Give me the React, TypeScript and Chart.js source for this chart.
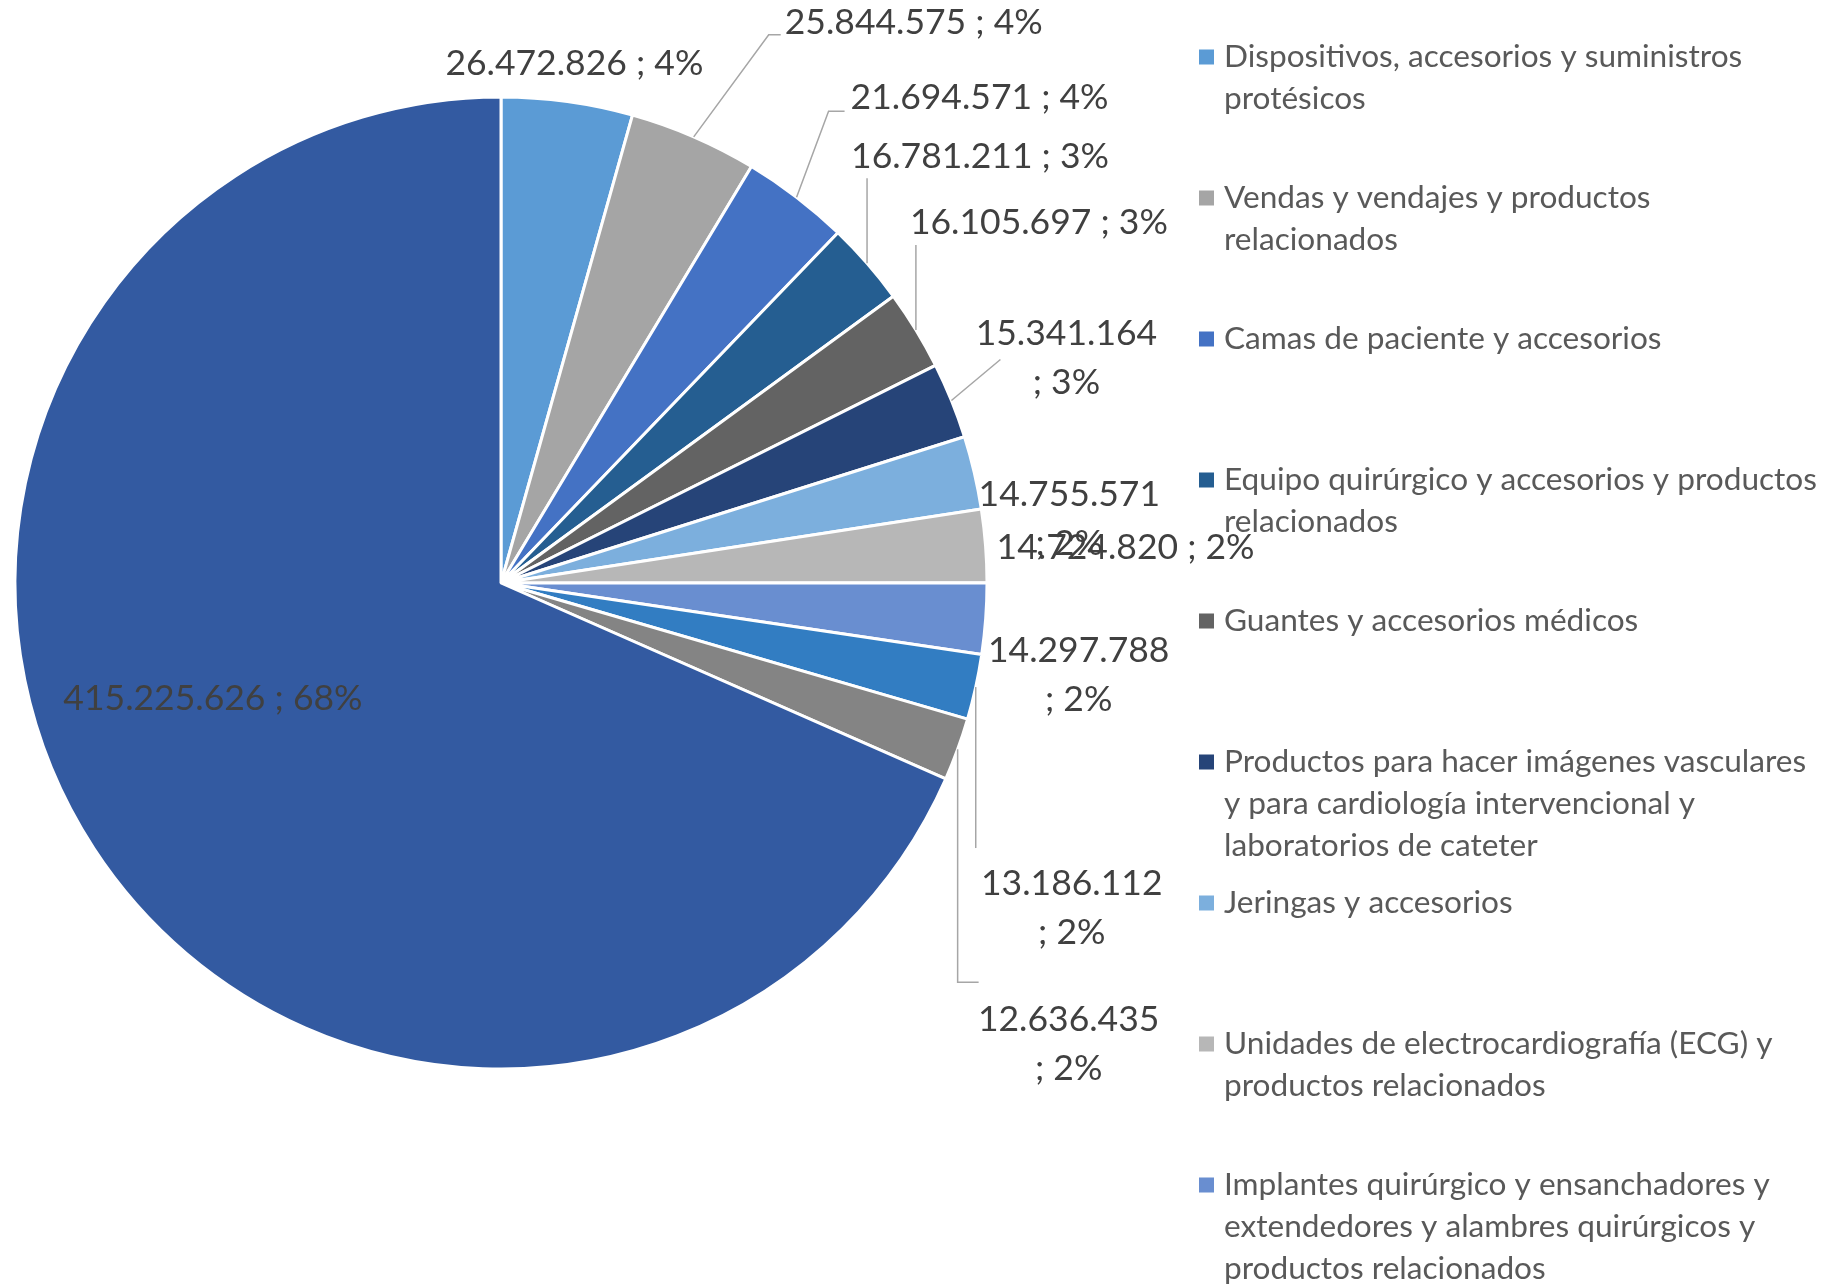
import React, { useEffect, useRef } from "react";
import { Chart, registerables } from "chart.js";

Chart.register(...registerables);

// ---- data ----
const CATEGORIES: string[][] = [
  ["Dispositivos, accesorios y suministros", "protésicos"],
  ["Vendas y vendajes y productos", "relacionados"],
  ["Camas de paciente y accesorios"],
  ["Equipo quirúrgico y accesorios y productos", "relacionados"],
  ["Guantes y accesorios médicos"],
  ["Productos para hacer imágenes vasculares", "y para cardiología intervencional y", "laboratorios de cateter"],
  ["Jeringas y accesorios"],
  ["Unidades de electrocardiografía (ECG) y", "productos relacionados"],
  ["Implantes quirúrgico y ensanchadores y", "extendedores y alambres quirúrgicos y", "productos relacionados"],
  ["Catéteres y cánulas y accesorios"],
  ["Suministros de anestesia"],
  ["Otros"],
];

const VALUES: number[] = [
  26472826, 25844575, 21694571, 16781211, 16105697, 15341164,
  14755571, 14724820, 14297788, 13186112, 12636435, 415225626,
];

const COLORS: string[] = [
  "#5B9BD5", "#A5A5A5", "#4472C4", "#255E91", "#636363", "#264478",
  "#7CAFDD", "#B7B7B7", "#698ED0", "#327DC2", "#848484", "#335AA1",
];

// label placement relative to the outer mid-point of each slice
// dx, dy: label centre offset; wrap: value and percent on two lines; leader: points relative to label centre
const LABEL_LAYOUT: { dx: number; dy: number; wrap: boolean; leader: number[][] | null }[] = [
  { dx: 7, dy: -38, wrap: false, leader: null },
  { dx: 220, dy: -114, wrap: false, leader: [[-145, 12], [-133, 12]] },
  { dx: 183, dy: -100, wrap: false, leader: [[-151, 14], [-135, 14]] },
  { dx: 113, dy: -107, wrap: false, leader: [[-113, 22]] },
  { dx: 123, dy: -107, wrap: false, leader: [[-123, 22]] },
  { dx: 115, dy: -67, wrap: true, leader: [[-66, 26]] },
  { dx: 95, dy: 22, wrap: true, leader: null },
  { dx: 140, dy: 2, wrap: false, leader: null },
  { dx: 93, dy: 32, wrap: true, leader: null },
  { dx: 96, dy: 197, wrap: true, leader: [[-96, -36]] },
  { dx: 111, dy: 270, wrap: true, leader: [[-111, -37], [-90, -37]] },
  { dx: 119, dy: -150, wrap: false, leader: null },
];

const LABEL_FONT = "35.5px Lato";
const LEGEND_FONT = "31.6px Lato";

function fmt(n: number): string {
  return String(n).replace(/\B(?=(\d{3})+(?!\d))/g, ".");
}

const labelPlugin = {
  id: "sliceLabels",
  afterDatasetsDraw(chart: any) {
    const ctx = chart.ctx as CanvasRenderingContext2D;
    const meta = chart.getDatasetMeta(0);
    const data = chart.data.datasets[0].data as number[];
    const total = data.reduce((a, b) => a + b, 0);
    ctx.save();
    meta.data.forEach((arc: any, i: number) => {
      const p = arc.getProps(["x", "y", "startAngle", "endAngle", "outerRadius"], true);
      const mid = (p.startAngle + p.endAngle) / 2;
      const ax = p.x + Math.cos(mid) * p.outerRadius;
      const ay = p.y + Math.sin(mid) * p.outerRadius;
      const L = LABEL_LAYOUT[i];
      const lx = ax + L.dx;
      const ly = ay + L.dy;
      if (L.leader) {
        ctx.strokeStyle = "#A6A6A6";
        ctx.lineWidth = 1.5;
        ctx.beginPath();
        ctx.moveTo(ax, ay);
        L.leader.forEach(([px, py]) => ctx.lineTo(lx + px, ly + py));
        ctx.stroke();
      }
      const pct = Math.round((data[i] / total) * 100) + "%";
      const lines = L.wrap ? [fmt(data[i]), "; " + pct] : [fmt(data[i]) + " ; " + pct];
      ctx.font = LABEL_FONT;
      ctx.fillStyle = "#404040";
      ctx.textAlign = "center";
      ctx.textBaseline = "middle";
      lines.forEach((t, k) => ctx.fillText(t, lx, ly + k * 49));
    });
    ctx.restore();
  },
};

const legendPlugin = {
  id: "sideLegend",
  afterDraw(chart: any) {
    const ctx = chart.ctx as CanvasRenderingContext2D;
    const labels = chart.data.labels as string[][];
    const colors = chart.data.datasets[0].backgroundColor as string[];
    const x0 = 1199;
    const y0 = 57;
    const step = 141;
    const lh = 42;
    ctx.save();
    ctx.font = LEGEND_FONT;
    ctx.textBaseline = "middle";
    ctx.textAlign = "left";
    labels.forEach((lines, i) => {
      const y = y0 + i * step;
      ctx.fillStyle = colors[i];
      ctx.fillRect(x0, y - 7.5, 15, 15);
      ctx.fillStyle = "#595959";
      lines.forEach((t, k) => ctx.fillText(t, x0 + 25, y + k * lh));
    });
    ctx.restore();
  },
};

export default function App() {
  const ref = useRef<HTMLCanvasElement | null>(null);
  useEffect(() => {
    document.body.style.margin = "0";
    const canvas = ref.current!;
    const chart = new Chart(canvas, {
      type: "pie",
      data: {
        labels: CATEGORIES as any,
        datasets: [
          {
            data: VALUES,
            backgroundColor: COLORS,
            borderColor: "#FFFFFF",
            borderWidth: 3,
          },
        ],
      },
      options: {
        responsive: false,
        animation: false,
        devicePixelRatio: 1,
        rotation: 0,
        radius: 486,
        layout: { padding: { left: 15, top: 97, right: 840, bottom: 215 } },
        plugins: { legend: { display: false }, tooltip: { enabled: false } },
      } as any,
      plugins: [labelPlugin, legendPlugin],
    });
    return () => chart.destroy();
  }, []);
  return (
    <div style={{ width: 1827, height: 1284, background: "#fff" }}>
      <canvas ref={ref} width={1827} height={1284} style={{ display: "block", width: 1827, height: 1284 }} />
    </div>
  );
}
